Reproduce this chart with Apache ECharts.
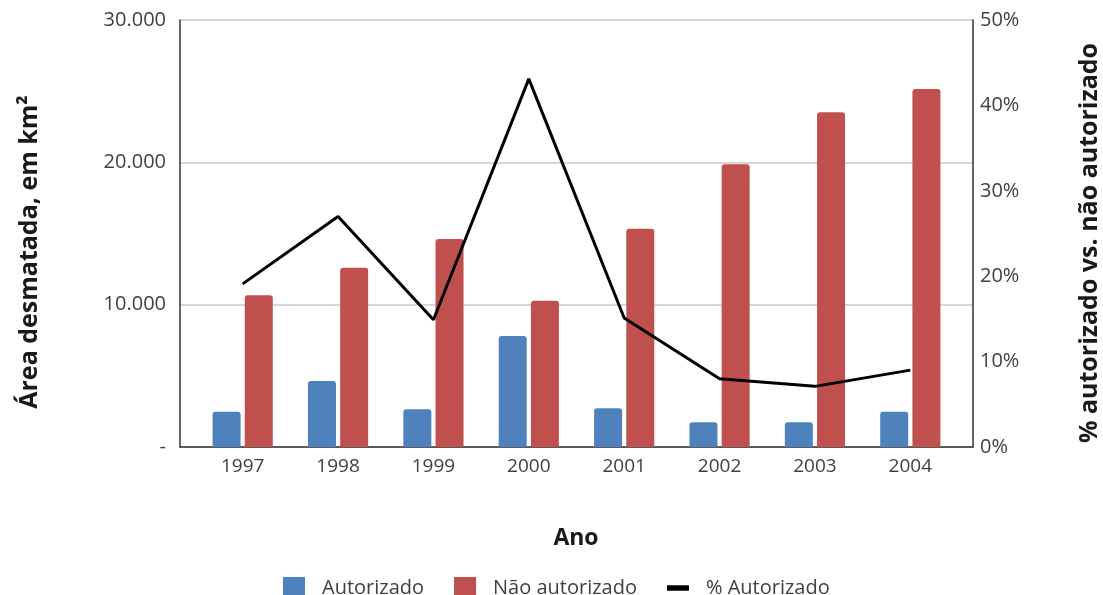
<!DOCTYPE html>
<html>
<head>
<meta charset="utf-8">
<script src="https://cdn.jsdelivr.net/npm/echarts@6/dist/echarts.min.js"></script>
<style>
  html, body { margin: 0; padding: 0; background: #ffffff; }
  #chart { width: 1103px; height: 595px; }
</style>
</head>
<body>
<div id="chart"></div>
<script>
// Deforested area per year (km²) and share authorised
const years = ['1997', '1998', '1999', '2000', '2001', '2002', '2003', '2004'];
const autorizado = [2480, 4640, 2650, 7800, 2720, 1740, 1740, 2480];
const naoAutorizado = [10660, 12600, 14610, 10280, 15340, 19860, 23520, 25150];
const pctAutorizado = [0.191, 0.270, 0.149, 0.431, 0.151, 0.080, 0.071, 0.090];

const leftTicks = { min: 0, max: 30000, interval: 10000 };
const rightTicks = { min: 0, max: 0.5, interval: 0.1 };

const FONT = '"Open Sans", "Liberation Sans", sans-serif';
const BLUE = '#4F81BD';
const RED = '#C0504D';

function thousands(v) {
  if (v === 0) return '-';
  return String(v).replace(/\B(?=(\d{3})+(?!\d))/g, '.');
}

const chart = echarts.init(document.getElementById('chart'), null, { renderer: 'canvas' });

// Outer frame grid carries the axis lines and gridlines; the inner grid holds the data
const frameGrid = { left: 180, right: 130, top: 20, bottom: 148 };
const dataGrid = { left: 195, right: 145, top: 20, bottom: 148 };

chart.setOption({
  backgroundColor: '#ffffff',
  animation: false,
  textStyle: { fontFamily: FONT },
  grid: [frameGrid, dataGrid],
  xAxis: [
    {
      gridIndex: 0, type: 'value', min: 0, max: 1,
      axisLine: { show: true, lineStyle: { color: '#333333', width: 1.5 } },
      axisTick: { show: false }, axisLabel: { show: false }, splitLine: { show: false }
    },
    {
      gridIndex: 1, type: 'category', data: years, boundaryGap: true,
      axisLine: { show: false }, axisTick: { show: false },
      axisLabel: { color: '#404040', fontSize: 19, fontFamily: FONT, margin: 10 }
    }
  ],
  yAxis: [
    {
      gridIndex: 0, type: 'value', position: 'left',
      min: leftTicks.min, max: leftTicks.max, interval: leftTicks.interval,
      axisLine: { show: true, lineStyle: { color: '#333333', width: 1.5 } },
      axisTick: { show: false },
      axisLabel: { color: '#404040', fontSize: 20, fontFamily: FONT, margin: 14, formatter: thousands },
      splitLine: { show: true, lineStyle: { color: '#C8C8C8', width: 1.5 } }
    },
    {
      gridIndex: 0, type: 'value', position: 'right',
      min: rightTicks.min, max: rightTicks.max, interval: rightTicks.interval,
      axisLine: { show: true, lineStyle: { color: '#333333', width: 1.5 } },
      axisTick: { show: false },
      axisLabel: { color: '#404040', fontSize: 20, fontFamily: FONT, margin: 7,
        formatter: v => Math.round(v * 100) + '%' },
      splitLine: { show: false }
    },
    {
      gridIndex: 1, type: 'value', min: leftTicks.min, max: leftTicks.max,
      show: false, splitLine: { show: false }
    },
    {
      gridIndex: 1, type: 'value', min: rightTicks.min, max: rightTicks.max,
      show: false, splitLine: { show: false }
    }
  ],
  legend: {
    left: 278, top: 572,
    itemWidth: 22, itemHeight: 22, itemGap: 30,
    textStyle: { color: '#404040', fontSize: 20, fontFamily: FONT, padding: [0, 0, 0, 12] },
    data: [
      { name: 'Autorizado', icon: 'rect' },
      { name: 'Não autorizado', icon: 'rect' },
      { name: '% Autorizado', icon: 'path://M0,0H24V6H0Z' }
    ]
  },
  series: [
    {
      name: 'Autorizado', type: 'bar', xAxisIndex: 1, yAxisIndex: 2,
      data: autorizado, barWidth: 28, barGap: '15%',
      itemStyle: { color: BLUE, borderRadius: [3, 3, 0, 0] }
    },
    {
      name: 'Não autorizado', type: 'bar', xAxisIndex: 1, yAxisIndex: 2,
      data: naoAutorizado, barWidth: 28, barGap: '15%',
      itemStyle: { color: RED, borderRadius: [3, 3, 0, 0] }
    },
    {
      name: '% Autorizado', type: 'line', xAxisIndex: 1, yAxisIndex: 3,
      data: pctAutorizado, showSymbol: false, symbol: 'none',
      itemStyle: { color: '#000000' },
      lineStyle: { color: '#000000', width: 3 }
    }
  ],
  graphic: [
    {
      type: 'text', x: 30, y: 252, rotation: Math.PI / 2,
      style: { text: 'Área desmatada, em km²', fill: '#1a1a1a', font: 'bold 25px ' + FONT,
        textAlign: 'center', textVerticalAlign: 'middle' }
    },
    {
      type: 'text', x: 1090, y: 243, rotation: Math.PI / 2,
      style: { text: '% autorizado vs. não autorizado', fill: '#1a1a1a', font: 'bold 25px ' + FONT,
        textAlign: 'center', textVerticalAlign: 'middle' }
    },
    {
      type: 'text', x: 576, y: 538,
      style: { text: 'Ano', fill: '#1a1a1a', font: 'bold 23px ' + FONT,
        textAlign: 'center', textVerticalAlign: 'middle' }
    }
  ]
});
</script>
</body>
</html>
